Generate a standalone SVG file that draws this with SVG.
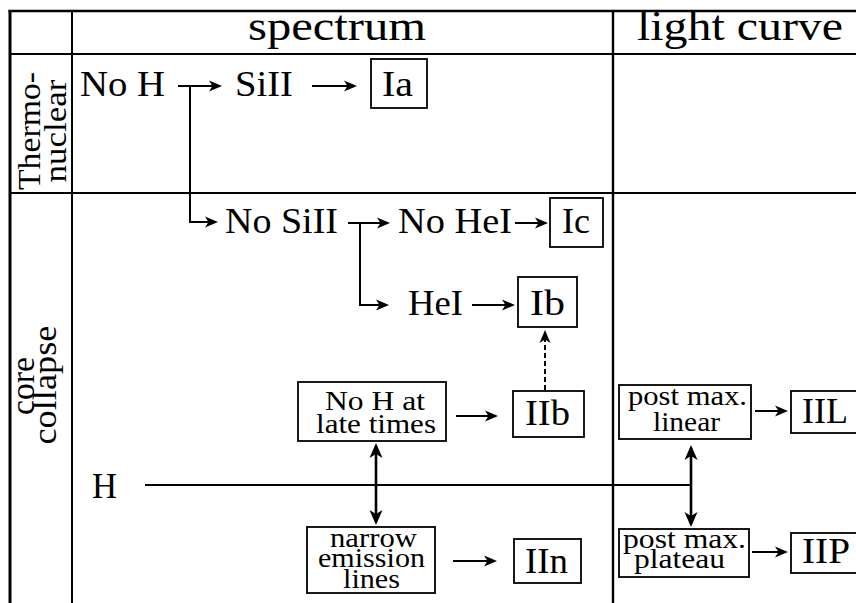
<svg xmlns="http://www.w3.org/2000/svg" width="856" height="603" viewBox="0 0 856 603">
<style>
text{font-family:"Liberation Serif","Times New Roman",serif;fill:#000}
.hd{font-size:42px}
.lb{font-size:35px}
.sm{font-size:28px}
.rt{font-size:31px}
.rt2{font-size:33px}
.grid{stroke:#000;fill:none}
.box{fill:#fff;stroke:#000;stroke-width:1.8}
.c{fill:none;stroke:#000;stroke-width:2}
.cb{fill:none;stroke:#000;stroke-width:2.6}
.dash{fill:none;stroke:#000;stroke-width:2;stroke-dasharray:5 3}
</style>
<defs>
<marker id="ah" viewBox="-16 -8 18 16" markerWidth="18" markerHeight="16" refX="-3" refY="0" orient="auto-start-reverse" markerUnits="userSpaceOnUse">
<path d="M0,0 L-13,-5.5 L-9.5,0 L-13,5.5 Z" fill="#000"/>
</marker>
<marker id="ahb" viewBox="-18 -9 20 18" markerWidth="20" markerHeight="18" refX="-3" refY="0" orient="auto-start-reverse" markerUnits="userSpaceOnUse">
<path d="M0,0 L-15,-6.5 L-11,0 L-15,6.5 Z" fill="#000"/>
</marker>
</defs>
<rect x="0" y="0" width="856" height="603" fill="#fff"/>

<g id="table" class="grid">
<line x1="10" y1="10" x2="10" y2="603" stroke-width="3"/>
<line x1="8.5" y1="11" x2="856" y2="11" stroke-width="2.6"/>
<line x1="72" y1="11" x2="72" y2="603" stroke-width="2"/>
<line x1="613" y1="11" x2="613" y2="603" stroke-width="2.4"/>
<line x1="10" y1="54" x2="856" y2="54" stroke-width="2.2"/>
<line x1="10" y1="193" x2="856" y2="193" stroke-width="2.2"/>
</g>

<g id="headers">
<text class="hd" x="248" y="40" textLength="178" lengthAdjust="spacingAndGlyphs">spectrum</text>
<text class="hd" x="637" y="40" textLength="206" lengthAdjust="spacingAndGlyphs">light curve</text>
</g>

<g id="row-labels">
<text class="rt" transform="translate(40,131) rotate(-90)" text-anchor="middle"><tspan x="0" y="0" textLength="118" lengthAdjust="spacingAndGlyphs">Thermo-</tspan><tspan x="0" y="26" textLength="103" lengthAdjust="spacingAndGlyphs">nuclear</tspan></text>
<text class="rt2" transform="translate(34,386) rotate(-90)" text-anchor="middle"><tspan x="0" y="0" textLength="58" lengthAdjust="spacingAndGlyphs">core</tspan><tspan x="1" y="22" textLength="119" lengthAdjust="spacingAndGlyphs">collapse</tspan></text>
</g>

<g id="connectors">
<path class="c" d="M178,86 H219" marker-end="url(#ah)"/>
<path class="c" d="M190,86 V222 H215" marker-end="url(#ah)"/>
<path class="c" d="M312,86 H354" marker-end="url(#ah)"/>
<path class="c" d="M348,223 H387" marker-end="url(#ah)"/>
<path class="c" d="M360,223 V305 H386" marker-end="url(#ah)"/>
<path class="c" d="M515,223 H545" marker-end="url(#ah)"/>
<path class="c" d="M472,305 H512" marker-end="url(#ah)"/>
<path class="dash" d="M545,390 V333" marker-end="url(#ah)"/>
<path class="c" d="M456,416 H495" marker-end="url(#ah)"/>
<path class="c" d="M145,485 H691"/>
<path class="cb" d="M376,446 V522" marker-start="url(#ahb)" marker-end="url(#ahb)"/>
<path class="cb" d="M691,448 V524" marker-start="url(#ahb)" marker-end="url(#ahb)"/>
<path class="c" d="M453,561 H494" marker-end="url(#ah)"/>
<path class="c" d="M755,411 H785" marker-end="url(#ah)"/>
<path class="c" d="M752,552 H785" marker-end="url(#ah)"/>
</g>

<g id="noH"><text class="lb" x="80" y="96" textLength="85" lengthAdjust="spacingAndGlyphs">No H</text></g>
<g id="SiII"><text class="lb" x="235" y="96" textLength="58" lengthAdjust="spacingAndGlyphs">SiII</text></g>
<g id="Ia"><rect class="box" x="371" y="59" width="56" height="49"/><text class="lb" x="382" y="96" textLength="31" lengthAdjust="spacingAndGlyphs">Ia</text></g>

<g id="noSiII"><text class="lb" x="225" y="233" textLength="113" lengthAdjust="spacingAndGlyphs">No SiII</text></g>
<g id="noHeI"><text class="lb" x="398" y="233" textLength="114" lengthAdjust="spacingAndGlyphs">No HeI</text></g>
<g id="Ic"><rect class="box" x="550" y="198" width="53" height="49"/><text class="lb" x="562" y="233" textLength="28" lengthAdjust="spacingAndGlyphs">Ic</text></g>

<g id="HeI"><text class="lb" x="408" y="315" textLength="55" lengthAdjust="spacingAndGlyphs">HeI</text></g>
<g id="Ib"><rect class="box" x="518" y="277" width="59" height="50"/><text class="lb" x="530" y="315" textLength="35" lengthAdjust="spacingAndGlyphs">Ib</text></g>

<g id="noHlate"><rect class="box" x="298" y="382" width="148" height="59"/>
<text class="sm"><tspan x="325" y="410" textLength="100" lengthAdjust="spacingAndGlyphs">No H at</tspan><tspan x="316" y="433" textLength="120" lengthAdjust="spacingAndGlyphs">late times</tspan></text></g>
<g id="IIb"><rect class="box" x="513" y="391" width="71" height="46"/><text class="lb" x="525" y="425" textLength="45" lengthAdjust="spacingAndGlyphs">IIb</text></g>

<g id="H"><text class="lb" x="92" y="498" textLength="25" lengthAdjust="spacingAndGlyphs">H</text></g>

<g id="narrow"><rect class="box" x="307" y="527" width="128" height="66"/>
<text class="sm"><tspan x="330" y="547" textLength="87" lengthAdjust="spacingAndGlyphs">narrow</tspan><tspan x="318" y="567" textLength="107" lengthAdjust="spacingAndGlyphs">emission</tspan><tspan x="343" y="588" textLength="57" lengthAdjust="spacingAndGlyphs">lines</tspan></text></g>
<g id="IIn"><rect class="box" x="514" y="539" width="67" height="44"/><text class="lb" x="525" y="573" textLength="43" lengthAdjust="spacingAndGlyphs">IIn</text></g>

<g id="linear"><rect class="box" x="619" y="385" width="132" height="54"/>
<text class="sm"><tspan x="628" y="405" textLength="119" lengthAdjust="spacingAndGlyphs">post max.</tspan><tspan x="653" y="431" textLength="67" lengthAdjust="spacingAndGlyphs">linear</tspan></text></g>
<g id="IIL"><rect class="box" x="791" y="391" width="80" height="42"/><text class="lb" x="802" y="423" textLength="46" lengthAdjust="spacingAndGlyphs">IIL</text></g>

<g id="plateau"><rect class="box" x="619" y="529" width="130" height="48"/>
<text class="sm"><tspan x="623" y="548" textLength="123" lengthAdjust="spacingAndGlyphs">post max.</tspan><tspan x="634" y="568" textLength="91" lengthAdjust="spacingAndGlyphs">plateau</tspan></text></g>
<g id="IIP"><rect class="box" x="791" y="533" width="80" height="40"/><text class="lb" x="802" y="563" textLength="48" lengthAdjust="spacingAndGlyphs">IIP</text></g>
</svg>
